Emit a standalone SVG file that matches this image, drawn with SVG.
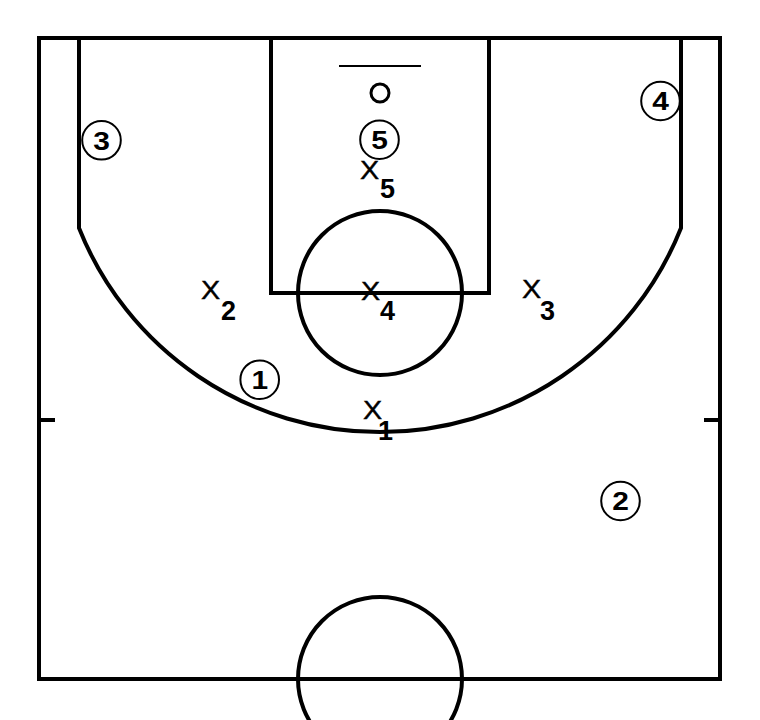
<svg xmlns="http://www.w3.org/2000/svg" width="760" height="720" viewBox="0 0 760 720">
<style>
.ln{fill:none;stroke:#000;stroke-width:4}
.pc{fill:#fff;stroke:#000;stroke-width:2}
.pn{font-family:"Liberation Sans",Arial,sans-serif;font-weight:bold;font-size:26px;text-anchor:middle;fill:#000}
.x{font-family:"Liberation Sans",Arial,sans-serif;font-size:25px;fill:#000;stroke:#000;stroke-width:0.4}
.sub{font-family:"Liberation Sans",Arial,sans-serif;font-weight:bold;font-size:27px;fill:#000}
</style>
<rect width="760" height="720" fill="#fff"/>
<g id="court">
<rect class="ln" x="39" y="38" width="681" height="641"/>
<path class="ln" d="M79 38 V228 A324 324 0 0 0 681 228 V38"/>
<rect class="ln" x="271" y="38" width="218" height="255"/>
<circle class="ln" cx="380" cy="293" r="82"/>
<circle class="ln" cx="380" cy="679" r="82"/>
<line class="ln" x1="39" y1="420" x2="55" y2="420"/>
<line class="ln" x1="704" y1="420" x2="720" y2="420"/>
<line x1="339" y1="66" x2="421" y2="66" stroke="#000" stroke-width="2"/>
<circle cx="380" cy="93" r="9" fill="none" stroke="#000" stroke-width="3"/>
</g>
<g id="connectors"></g>
<g id="o1"><circle class="pc" cx="259.7" cy="379.7" r="19.3"/><text class="pn" transform="translate(259.7 388.9) scale(1.15 1)">1</text></g>
<g id="o2"><circle class="pc" cx="620.5" cy="501" r="19.3"/><text class="pn" transform="translate(620.5 510.2) scale(1.15 1)">2</text></g>
<g id="o3"><circle class="pc" cx="101.5" cy="140.3" r="19.3"/><text class="pn" transform="translate(101.5 149.5) scale(1.15 1)">3</text></g>
<g id="o4"><circle class="pc" cx="660.5" cy="101" r="19.3"/><text class="pn" transform="translate(660.5 110.2) scale(1.15 1)">4</text></g>
<g id="o5"><circle class="pc" cx="379.5" cy="139.7" r="19.3"/><text class="pn" transform="translate(379.5 148.9) scale(1.15 1)">5</text></g>
<g id="x1"><text class="x" transform="translate(363 419) scale(1.15 1)">X</text><text class="sub" x="378" y="440">1</text></g>
<g id="x2"><text class="x" transform="translate(201 299) scale(1.15 1)">X</text><text class="sub" x="221" y="320">2</text></g>
<g id="x3"><text class="x" transform="translate(522 298) scale(1.15 1)">X</text><text class="sub" x="540" y="320">3</text></g>
<g id="x4"><text class="x" transform="translate(361 299.5) scale(1.15 1)">X</text><text class="sub" x="380" y="320">4</text></g>
<g id="x5"><text class="x" transform="translate(360 179) scale(1.15 1)">X</text><text class="sub" x="380" y="198">5</text></g>
</svg>
